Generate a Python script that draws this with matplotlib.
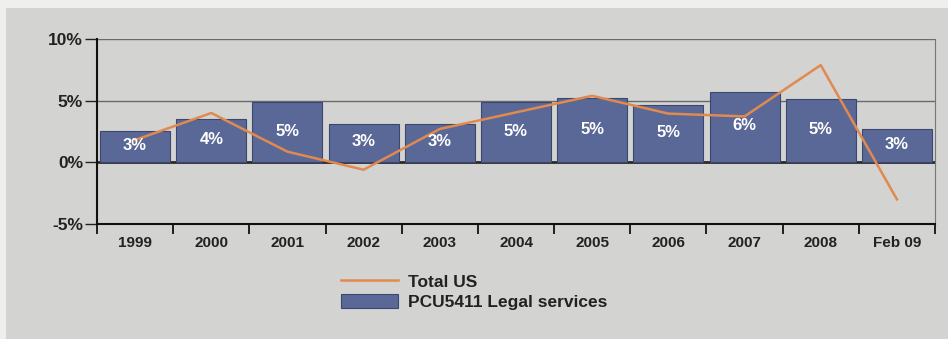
import numpy as np
import matplotlib
matplotlib.use("Agg")
import matplotlib.pyplot as plt
from matplotlib.patches import Rectangle

plt.rcParams['font.family'] = ['Liberation Sans', 'DejaVu Sans']

# data
categories = ['1999', '2000', '2001', '2002', '2003', '2004',
              '2005', '2006', '2007', '2008', 'Feb 09']
legal = [2.54, 3.52, 4.86, 3.13, 3.13, 4.86, 5.18, 4.67, 5.74, 5.13, 2.67]
total_us = [1.8, 4.0, 0.85, -0.62, 2.7, 4.05, 5.4, 3.95, 3.72, 7.9, -3.03]
yticks = [-5, 0, 5, 10]

W, H = 948, 339
fig = plt.figure(figsize=(W / 100, H / 100), dpi=100)
fig.patch.set_facecolor('#efefed')
# inner grey panel, behind the axes
panel = Rectangle((6 / W, 0), 1, 1 - 8 / H, transform=fig.transFigure,
                  facecolor='#d3d3d1', edgecolor='none', zorder=-10)
fig.add_artist(panel)

ax = fig.add_axes([97 / W, 1 - 223.5 / H, (935 - 97) / W, (223.5 - 39.3) / H])
ax.set_facecolor('#d3d3d1')

x = np.arange(len(categories))
bar_c = '#5a6898'
line_c = '#e08a50'

ax.axhline(0, color='#2a2a2a', lw=2, zorder=1)
bars = ax.bar(x, legal, width=0.92, color=bar_c, edgecolor='#3c4770', lw=0.8,
              zorder=2, label='PCU5411 Legal services')
ax.plot(x, total_us, color=line_c, lw=1.8, zorder=3, label='Total US')

for xi, v in zip(x, legal):
    ax.text(xi, v / 2 + 0.1, f'{int(round(v))}%', ha='center', va='center',
            color='white', fontsize=12, fontweight='bold', zorder=4)

ax.set_xlim(-0.5, len(categories) - 0.5)
ax.set_ylim(-5, 10)
for yv in [5, 10]:
    ax.axhline(yv, color='#6a6a6a', lw=1, zorder=1)

ax.set_yticks(yticks)
ax.set_yticklabels([f'{v}%' for v in yticks], fontsize=12.5, fontweight='bold',
                   color='#222222')
ax.tick_params(axis='y', length=9, width=1, color='#222222', pad=1)

ax.set_xticks(np.arange(len(categories) + 1) - 0.5)
ax.set_xticklabels([])
ax.set_xticks(x, minor=True)
ax.set_xticklabels(categories, minor=True, fontsize=11, fontweight='bold',
                   color='#222222')
ax.tick_params(axis='x', which='major', length=7.5, width=1.3, color='#111111')
ax.tick_params(axis='x', which='minor', length=0, pad=9)

for s in ['left', 'bottom']:
    ax.spines[s].set_color('#111111')
    ax.spines[s].set_linewidth(1.5)
ax.spines['right'].set_color('#777777')
ax.spines['top'].set_visible(False)

h, l = ax.get_legend_handles_labels()
fig.legend(h, l, loc='center left', bbox_to_anchor=(341 / W, 1 - 292 / H),
           frameon=False, prop={'weight': 'bold', 'size': 12.5},
           handlelength=3.3, handleheight=0.86, handletextpad=0.57,
           labelspacing=0.27, borderpad=0, borderaxespad=0,
           labelcolor='#222222')

fig.savefig('out.png', dpi=100, facecolor=fig.get_facecolor())
